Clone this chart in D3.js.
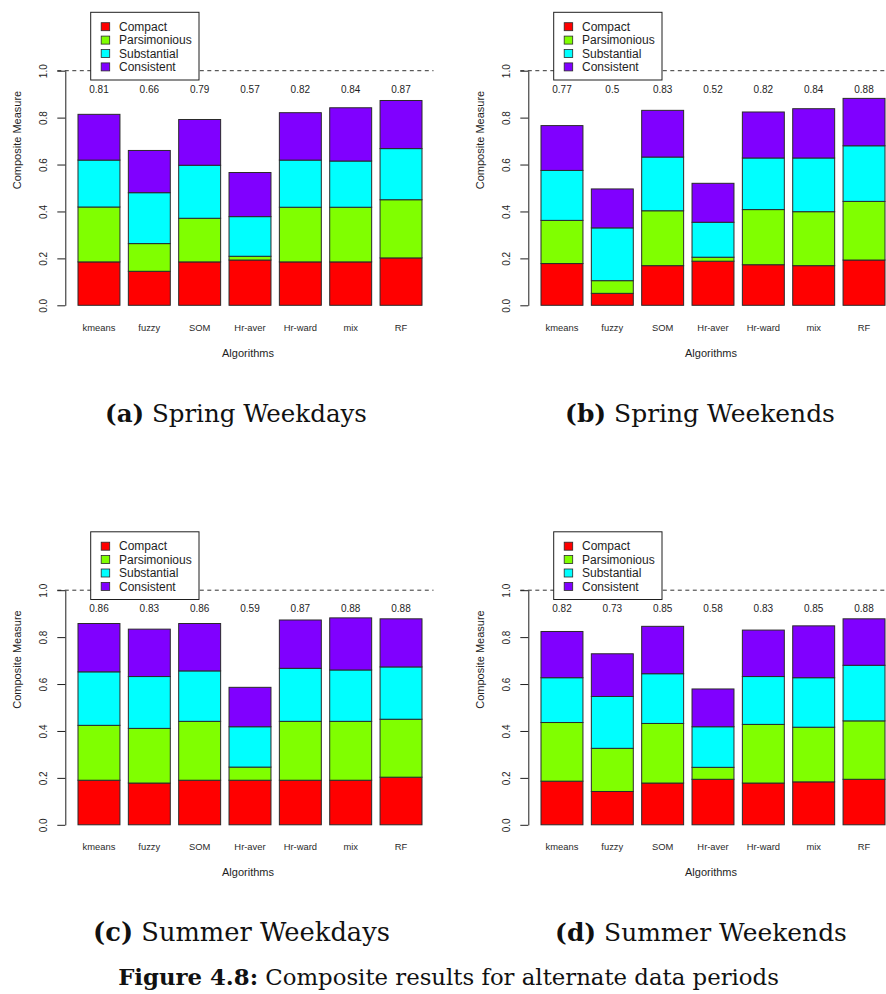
<!DOCTYPE html>
<html>
<head>
<meta charset="utf-8">
<script src="https://cdn.jsdelivr.net/npm/d3@7"></script>
<style>
  html, body { margin: 0; padding: 0; background: #fff; }
  svg { display: block; }
</style>
</head>
<body>
<svg id="fig" width="886" height="994"></svg>
<script>
// Algorithms on the x axis and the four composite criteria stacked in each bar
const categories = ["kmeans", "fuzzy", "SOM", "Hr-aver", "Hr-ward", "mix", "RF"];
const seriesNames = ["Compact", "Parsimonious", "Substantial", "Consistent"];
const yTickValues = [0, 0.2, 0.4, 0.6, 0.8, 1.0];

// (a) Spring Weekdays
const springWeekdaysCompact      = [0.185, 0.145, 0.185, 0.193, 0.185, 0.185, 0.202];
const springWeekdaysParsimonious = [0.234, 0.118, 0.186, 0.016, 0.233, 0.233, 0.248];
const springWeekdaysSubstantial  = [0.200, 0.217, 0.226, 0.169, 0.201, 0.197, 0.218];
const springWeekdaysConsistent   = [0.195, 0.180, 0.195, 0.188, 0.202, 0.227, 0.205];

// (b) Spring Weekends
const springWeekendsCompact      = [0.178, 0.051, 0.169, 0.188, 0.173, 0.169, 0.193];
const springWeekendsParsimonious = [0.184, 0.054, 0.234, 0.017, 0.235, 0.230, 0.250];
const springWeekendsSubstantial  = [0.213, 0.225, 0.229, 0.149, 0.220, 0.229, 0.237];
const springWeekendsConsistent   = [0.191, 0.166, 0.199, 0.166, 0.196, 0.210, 0.202];

// (c) Summer Weekdays
const summerWeekdaysCompact      = [0.190, 0.178, 0.190, 0.190, 0.190, 0.190, 0.203];
const summerWeekdaysParsimonious = [0.234, 0.233, 0.251, 0.056, 0.251, 0.251, 0.247];
const summerWeekdaysSubstantial  = [0.228, 0.221, 0.215, 0.172, 0.226, 0.219, 0.223];
const summerWeekdaysConsistent   = [0.206, 0.202, 0.202, 0.168, 0.206, 0.222, 0.205];

// (d) Summer Weekends
const summerWeekendsCompact      = [0.186, 0.142, 0.178, 0.194, 0.178, 0.183, 0.194];
const summerWeekendsParsimonious = [0.250, 0.184, 0.254, 0.051, 0.250, 0.233, 0.249];
const summerWeekendsSubstantial  = [0.191, 0.221, 0.212, 0.173, 0.204, 0.211, 0.237];
const summerWeekendsConsistent   = [0.197, 0.182, 0.202, 0.161, 0.198, 0.221, 0.198];

const panelLetters = ["a", "b", "c", "d"];
const panelTitles = ["Spring Weekdays", "Spring Weekends", "Summer Weekdays", "Summer Weekends"];
const figureLabel = "Figure 4.8:";
const figureTitle = " Composite results for alternate data periods";

const panelSeries = [
  [springWeekdaysCompact, springWeekdaysParsimonious, springWeekdaysSubstantial, springWeekdaysConsistent],
  [springWeekendsCompact, springWeekendsParsimonious, springWeekendsSubstantial, springWeekendsConsistent],
  [summerWeekdaysCompact, summerWeekdaysParsimonious, summerWeekdaysSubstantial, summerWeekdaysConsistent],
  [summerWeekendsCompact, summerWeekendsParsimonious, summerWeekendsSubstantial, summerWeekendsConsistent]
];

// R rainbow(4) palette
const seriesColors = ["#FF0000", "#80FF00", "#00FFFF", "#8000FF"];
const ink = "#1e1e1e";
const sans = "'Liberation Sans', Arial, sans-serif";
const serif = "'DejaVu Serif', 'Liberation Serif', serif";

const svg = d3.select("#fig");

// Panel geometry (local coordinates inside one panel):
// bars one unit wide with a 0.2 gap, as in R's barplot
const x = d3.scaleBand()
  .domain(categories)
  .range([73.8, 426.2])
  .paddingInner(0.2 / 1.2)
  .paddingOuter(0.1 / 1.2);
const y = d3.scaleLinear().domain([0, 1]).range([305.3, 70.7]);
const color = d3.scaleOrdinal().domain(seriesNames).range(seriesColors);
const axisX = 65.3;
const totalFmt = d3.format(".2~f");

const offsets = [[0, 0], [463, 0], [0, 519.5], [463, 519.5]];

function drawPanel(g, series) {
  const rows = categories.map((c, i) => {
    const r = { name: c };
    seriesNames.forEach((s, k) => { r[s] = series[k][i]; });
    return r;
  });
  const stacked = d3.stack().keys(seriesNames)(rows);

  // reference line at 1.0
  g.append("line")
    .attr("x1", 57.3).attr("x2", 433.5)
    .attr("y1", y(1)).attr("y2", y(1))
    .attr("stroke", "#333").attr("stroke-width", 1)
    .attr("stroke-dasharray", "4,3.5");

  // stacked bars
  g.append("g").selectAll("g")
    .data(stacked)
    .join("g")
      .attr("fill", d => color(d.key))
    .selectAll("rect")
    .data(d => d)
    .join("rect")
      .attr("x", d => x(d.data.name))
      .attr("width", x.bandwidth())
      .attr("y", d => y(d[1]))
      .attr("height", d => y(d[0]) - y(d[1]))
      .attr("stroke", "#2a2a2a")
      .attr("stroke-width", 1);

  // totals above the bars
  g.append("g").selectAll("text")
    .data(rows)
    .join("text")
      .attr("x", d => x(d.name) + x.bandwidth() / 2)
      .attr("y", y(0.92))
      .attr("dy", "0.35em")
      .attr("text-anchor", "middle")
      .attr("font-family", sans)
      .attr("font-size", 10)
      .attr("fill", ink)
      .text(d => totalFmt(seriesNames.reduce((a, s) => a + d[s], 0)));

  // y axis
  const yAxis = g.append("g")
    .attr("transform", `translate(${axisX},0)`)
    .call(d3.axisLeft(y).tickValues(yTickValues).tickSize(8).tickSizeOuter(0)
      .tickFormat(d3.format(".1f")));
  yAxis.select(".domain").attr("stroke", ink);
  yAxis.selectAll(".tick line").attr("stroke", ink);
  yAxis.selectAll(".tick text")
    .attr("x", null).attr("dy", null)
    .attr("transform", "translate(-18.5,0) rotate(-90)")
    .attr("text-anchor", "middle")
    .attr("font-family", sans)
    .attr("font-size", 10)
    .attr("fill", ink);

  // category names
  g.append("g").selectAll("text")
    .data(categories)
    .join("text")
      .attr("x", d => x(d) + x.bandwidth() / 2)
      .attr("y", 327.3)
      .attr("dy", "0.35em")
      .attr("text-anchor", "middle")
      .attr("font-family", sans)
      .attr("font-size", 9.4)
      .attr("fill", "#2a2a2a")
      .text(d => d);

  // axis titles
  g.append("text")
    .attr("x", 248).attr("y", 353)
    .attr("dy", "0.35em")
    .attr("text-anchor", "middle")
    .attr("font-family", sans).attr("font-size", 11)
    .attr("fill", ink)
    .text("Algorithms");
  g.append("text")
    .attr("transform", "translate(17.5,140) rotate(-90)")
    .attr("dy", "0.35em")
    .attr("text-anchor", "middle")
    .attr("font-family", sans).attr("font-size", 11)
    .attr("fill", ink)
    .text("Composite Measure");

  // legend
  const lg = g.append("g").attr("transform", "translate(90.7,12.3)");
  lg.append("rect")
    .attr("width", 108.3).attr("height", 67.7)
    .attr("fill", "#fff").attr("stroke", ink).attr("stroke-width", 1);
  const items = lg.selectAll("g.item")
    .data(seriesNames)
    .join("g")
      .attr("class", "item")
      .attr("transform", (d, i) => `translate(0,${14.4 + i * 13.4})`);
  items.append("rect")
    .attr("x", 10.5).attr("y", -4).attr("width", 8.5).attr("height", 8)
    .attr("fill", d => color(d))
    .attr("stroke", "#2a2a2a").attr("stroke-width", 0.8);
  items.append("text")
    .attr("x", 28.3).attr("dy", "0.35em")
    .attr("font-family", sans).attr("font-size", 12)
    .attr("fill", ink)
    .text(d => d);
}

panelSeries.forEach((series, i) => {
  const g = svg.append("g").attr("transform", `translate(${offsets[i][0]},${offsets[i][1]})`);
  drawPanel(g, series);
});

// Sub-captions and figure caption, sized to their line widths
function caption(bold, regular, cx, baseline, width) {
  const t = svg.append("text")
    .attr("x", cx).attr("y", baseline)
    .attr("text-anchor", "middle")
    .attr("font-family", serif)
    .attr("font-size", 24)
    .attr("fill", "#111");
  t.append("tspan").attr("font-weight", "bold").text(bold);
  t.append("tspan").text(regular);
  const w = t.node().getComputedTextLength();
  t.attr("font-size", 24 * width / w);
}

const captionPos = [[236, 422, 262], [700, 422, 270], [241.5, 941, 297], [701, 941, 292]];
panelTitles.forEach((title, i) => {
  const p = captionPos[i];
  caption(`(${panelLetters[i]})`, " " + title, p[0], p[1], p[2]);
});
caption(figureLabel, figureTitle, 448.5, 985, 661);
</script>
</body>
</html>
